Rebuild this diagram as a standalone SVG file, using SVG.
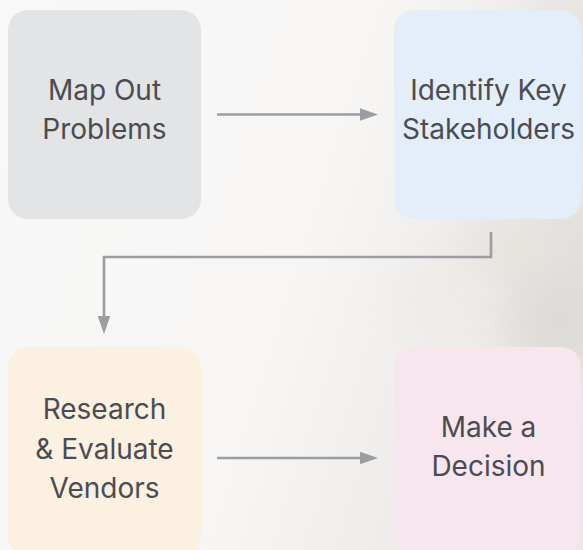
<svg xmlns="http://www.w3.org/2000/svg" width="583" height="550" viewBox="0 0 583 550">
  <defs>
    <style>
      .box { stroke: none; }
      .label { font-family: Inter, "Noto Sans", "Liberation Sans", sans-serif; font-size: 28px; fill: #4b4c51; text-anchor: middle; }
      .wire { fill: none; stroke: #9c9da2; stroke-width: 2.6; }
    </style>
    <marker id="head" markerUnits="userSpaceOnUse" markerWidth="18" markerHeight="13" refX="0" refY="6.3" orient="auto">
      <path d="M0,0 L18,6.3 L0,12.6 Z" fill="#9c9da2"/>
    </marker>
    <linearGradient id="bg" x1="0" y1="0" x2="1" y2="0.3">
      <stop offset="0" stop-color="#f8f8f8"/>
      <stop offset="0.6" stop-color="#f7f6f5"/>
      <stop offset="1" stop-color="#ebe8e5"/>
    </linearGradient>
    <filter id="soft" x="-50%" y="-50%" width="200%" height="200%">
      <feGaussianBlur stdDeviation="22"/>
    </filter>
  </defs>

  <!-- backdrop -->
  <rect width="583" height="550" fill="url(#bg)"/>
  <g filter="url(#soft)" opacity="0.9">
    <ellipse cx="560" cy="290" rx="60" ry="90" fill="#dcd9d6"/>
    <ellipse cx="520" cy="250" rx="70" ry="40" fill="#e6e2de"/>
    <ellipse cx="570" cy="20" rx="50" ry="40" fill="#e8e3e0"/>
    <ellipse cx="450" cy="300" rx="60" ry="40" fill="#eeebe9"/>
  </g>

  <!-- connectors -->
  <g id="connectors">
    <line class="wire" x1="217" y1="114.5" x2="360" y2="114.5" marker-end="url(#head)"/>
    <polyline class="wire" points="491,232 491,257 104,257 104,316" marker-end="url(#head)"/>
    <line class="wire" x1="217" y1="458" x2="360" y2="458" marker-end="url(#head)"/>
  </g>

  <g id="map-out-problems">
    <rect class="box" x="8" y="10" width="193" height="209" rx="20" fill="#e3e4e6"/>
    <text class="label" x="104.5" y="100">Map Out</text>
    <text class="label" x="104.5" y="139">Problems</text>
  </g>

  <g id="identify-key-stakeholders">
    <rect class="box" x="394" y="10" width="187" height="209" rx="20" fill="#e3eef9"/>
    <text class="label" x="488.5" y="100">Identify Key</text>
    <text class="label" x="488.5" y="139">Stakeholders</text>
  </g>

  <g id="research-evaluate-vendors">
    <rect class="box" x="8" y="347" width="193" height="209" rx="20" fill="#fcf0e0"/>
    <text class="label" x="104.5" y="419">Research</text>
    <text class="label" x="104.5" y="459">&amp; Evaluate</text>
    <text class="label" x="104.5" y="498">Vendors</text>
  </g>

  <g id="make-a-decision">
    <rect class="box" x="394" y="347" width="187" height="209" rx="20" fill="#f7e6ee"/>
    <text class="label" x="488.5" y="437">Make a</text>
    <text class="label" x="488.5" y="476">Decision</text>
  </g>
</svg>
